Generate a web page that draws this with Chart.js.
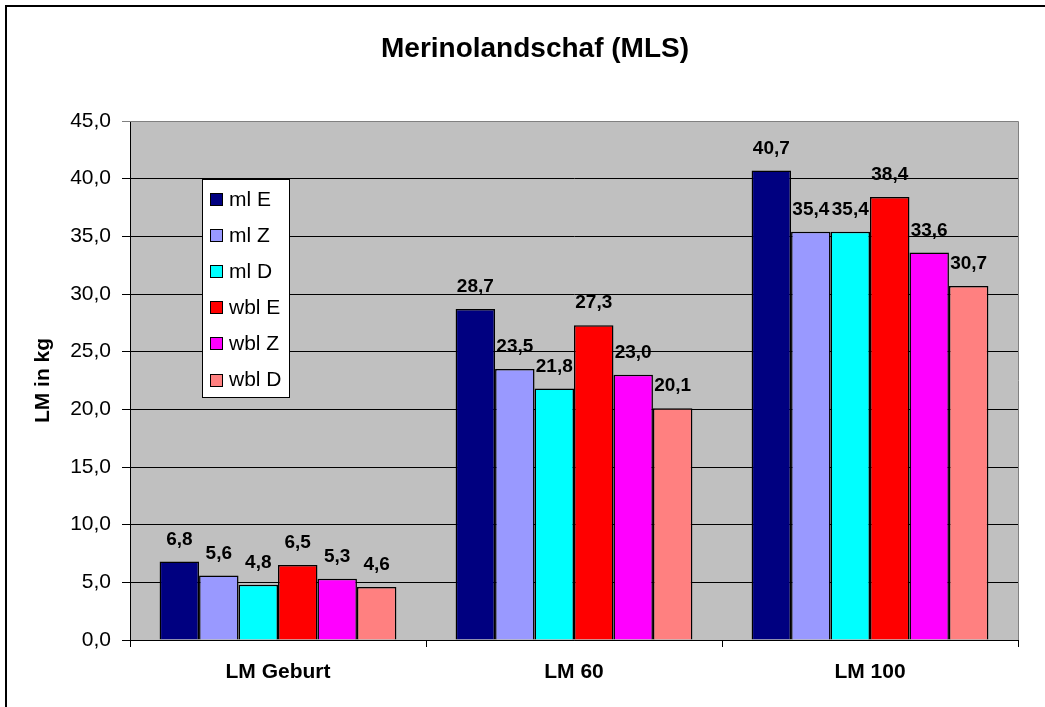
<!DOCTYPE html>
<html>
<head>
<meta charset="utf-8">
<script src="https://cdn.jsdelivr.net/npm/chart.js@4/dist/chart.umd.min.js"></script>
<style>
  html, body { margin: 0; padding: 0; background: #fff; }
  canvas { display: block; }
</style>
</head>
<body>
<canvas id="c" width="1045" height="707"></canvas>
<script>
const chartTitle = 'Merinolandschaf (MLS)';
const yAxisTitle = 'LM in kg';
const categories = ['LM Geburt', 'LM 60', 'LM 100'];
const seriesNames = ['ml E', 'ml Z', 'ml D', 'wbl E', 'wbl Z', 'wbl D'];
const mlE  = [6.8, 28.7, 40.7];
const mlZ  = [5.6, 23.5, 35.4];
const mlD  = [4.8, 21.8, 35.4];
const wblE = [6.5, 27.3, 38.4];
const wblZ = [5.3, 23.0, 33.6];
const wblD = [4.6, 20.1, 30.7];
const seriesValues = [mlE, mlZ, mlD, wblE, wblZ, wblD];
const seriesColors = ['#000080', '#9999FF', '#00FFFF', '#FF0000', '#FF00FF', '#FF8080'];
const yMin = 0, yMax = 45, yStep = 5;

const fmt = v => Number(v).toFixed(1).replace('.', ',');

const decorPlugin = {
  id: 'decor',
  beforeDraw(chart) {
    const {ctx, chartArea: a} = chart;
    ctx.save();
    ctx.fillStyle = '#C0C0C0';
    ctx.fillRect(a.left, a.top, a.right - a.left, a.bottom - a.top);
    ctx.restore();
  },
  afterDraw(chart) {
    const {ctx, chartArea: a} = chart;
    ctx.save();
    // plot border top/right
    ctx.strokeStyle = '#808080';
    ctx.lineWidth = 1;
    ctx.beginPath();
    ctx.moveTo(a.left, a.top + 0.5);
    ctx.lineTo(a.right + 0.5, a.top + 0.5);
    ctx.lineTo(a.right + 0.5, a.bottom);
    ctx.stroke();
    // outer frame (top and left)
    ctx.strokeStyle = '#000';
    ctx.lineWidth = 2;
    ctx.beginPath();
    ctx.moveTo(6, chart.height);
    ctx.lineTo(6, 6);
    ctx.lineTo(chart.width, 6);
    ctx.stroke();
    // title
    ctx.fillStyle = '#000';
    ctx.font = 'bold 28px "Liberation Sans", Arial, sans-serif';
    ctx.textAlign = 'center';
    ctx.textBaseline = 'middle';
    ctx.fillText(chartTitle, 535, 49);
    // data labels
    ctx.font = 'bold 19px "Liberation Sans", Arial, sans-serif';
    chart.data.datasets.forEach((ds, i) => {
      const meta = chart.getDatasetMeta(i);
      meta.data.forEach((bar, j) => {
        ctx.fillText(fmt(ds.data[j]), bar.x, bar.y - 22);
      });
    });
    // legend
    const lx = 202, ly = 179, lw = 87, lh = 218;
    ctx.fillStyle = '#fff';
    ctx.fillRect(lx, ly, lw, lh);
    ctx.strokeStyle = '#000';
    ctx.lineWidth = 1;
    ctx.strokeRect(lx + 0.5, ly + 0.5, lw, lh);
    ctx.font = '21px "Liberation Sans", Arial, sans-serif';
    ctx.textAlign = 'left';
    chart.data.datasets.forEach((ds, i) => {
      const cy = 199 + i * 36.1;
      ctx.fillStyle = ds.backgroundColor;
      ctx.fillRect(210, Math.round(cy - 6), 12, 12);
      ctx.strokeRect(210.5, Math.round(cy - 6) + 0.5, 12, 12);
      ctx.fillStyle = '#000';
      ctx.fillText(ds.label, 229, cy + 1);
    });
    ctx.restore();
  }
};

new Chart(document.getElementById('c'), {
  type: 'bar',
  data: {
    labels: categories,
    datasets: seriesNames.map((name, i) => ({
      label: name,
      data: seriesValues[i],
      backgroundColor: seriesColors[i],
      borderColor: '#000',
      borderWidth: 1.5,
      borderSkipped: 'bottom',
      categoryPercentage: 0.8,
      barPercentage: 1.0
    }))
  },
  options: {
    responsive: false,
    animation: false,
    devicePixelRatio: 1,
    layout: { padding: { top: 121, right: 27, bottom: 0, left: 0 } },
    plugins: {
      legend: { display: false },
      title: { display: false },
      tooltip: { enabled: false }
    },
    scales: {
      x: {
        afterFit(scale) { scale.height = 67; },
        grid: { display: true, drawOnChartArea: false, drawTicks: true, tickLength: 7, color: '#000', offset: true },
        border: { display: true, color: '#000', width: 1 },
        ticks: {
          color: '#000',
          padding: 13,
          font: { family: '"Liberation Sans", Arial, sans-serif', size: 21, weight: 'bold' }
        }
      },
      y: {
        min: yMin, max: yMax,
        afterFit(scale) { scale.width = 130; },
        grid: {
          color: ctx => (ctx.tick && ctx.tick.value === yMax) ? '#808080' : '#000',
          drawTicks: true, tickLength: 8, lineWidth: 1
        },
        border: { display: true, color: '#000', width: 1 },
        ticks: {
          stepSize: yStep,
          color: '#000',
          padding: 11,
          font: { family: '"Liberation Sans", Arial, sans-serif', size: 21 },
          callback: v => fmt(v)
        },
        title: {
          display: true,
          text: yAxisTitle,
          color: '#000',
          padding: { top: 31, bottom: 0 },
          font: { family: '"Liberation Sans", Arial, sans-serif', size: 21, weight: 'bold' }
        }
      }
    }
  },
  plugins: [decorPlugin]
});
</script>
</body>
</html>
